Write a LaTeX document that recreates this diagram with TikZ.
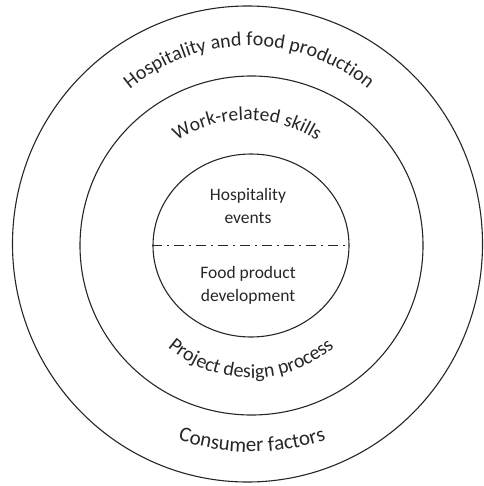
\documentclass[tikz,border=0pt]{standalone}
\usepackage{fontspec}
\setmainfont{Carlito}
\usetikzlibrary{shapes.geometric,decorations.text}
\begin{document}
\begin{tikzpicture}[x=1pt,y=1pt,
  ring/.style={ellipse, draw=black!85, line width=1.1pt, inner sep=0pt},
  ringtext/.style 2 args={decorate, decoration={text along path, text align=center,
     text={|\fontsize{#1}{#1}\selectfont\color{black!85}|#2}}},
  innertext/.style={font=\fontsize{17.5}{23}\selectfont, text=black!85, align=center, inner sep=0pt},
  divider/.style={draw=black!85, line width=1.6pt, dash pattern=on 10pt off 5pt on 2pt off 5pt}
]
\useasboundingbox (0,0) rectangle (483,-486);
\node[ring, minimum width=470pt, minimum height=476pt] (outer) at (247.5,-244) {};
\node[ring, minimum width=343pt, minimum height=339pt] (middle) at (251.5,-245.5) {};
\node[ring, minimum width=196pt, minimum height=183pt] (inner) at (251,-245.5) {};
\coordinate (ch) at (249,-231);
\coordinate (cw) at (247,-248);
\coordinate (cp) at (251,-250);
\coordinate (cc) at (252,-222);
\path[ringtext={20}{Hospitality and food production}] ([shift={(150:185)}]ch) arc[start angle=150, end angle=30, radius=185];
\path[ringtext={19.5}{Work-related skills}] ([shift={(150:128)}]cw) arc[start angle=150, end angle=30, radius=128];
\path[ringtext={20}{Project design process}] ([shift={(200:128)}]cp) arc[start angle=200, end angle=340, radius=128];
\path[ringtext={21}{Consumer factors}] ([shift={(220:230)}]cc) arc[start angle=220, end angle=320, radius=230];
\draw[divider] (inner.west) -- (inner.east);
\node[innertext] (hosp) at (248,-206) {Hospitality\\events};
\node[innertext] (food) at (248,-285) {Food product\\development};
\end{tikzpicture}
\end{document}
